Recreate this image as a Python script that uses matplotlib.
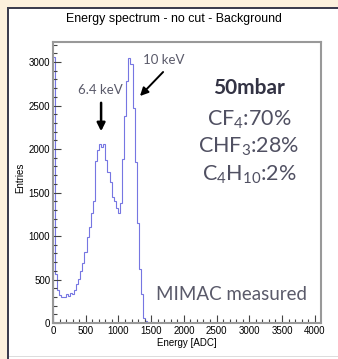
import numpy as np
import matplotlib
matplotlib.use('Agg')
import matplotlib.pyplot as plt
from matplotlib.patches import Rectangle

plt.rcParams['mathtext.fontset'] = 'custom'
plt.rcParams['mathtext.rm'] = 'Lato'
plt.rcParams['mathtext.it'] = 'Lato:italic'

# histogram, 32 ADC per bin, 0..4096
entries = [3060, 560, 380, 320, 300, 295, 330, 310, 340, 330,
           380, 450, 510, 600, 690, 820, 990, 1100, 1260, 1400,
           1860, 1990, 2060, 2020, 2060, 1870, 1730, 1620, 1450, 1400,
           1320, 1270, 1380, 1880, 2380, 2780, 3050, 2980, 2470, 1850,
           1150, 620, 330, 60, 25, 15, 10, 6, 5, 4,
           4, 3, 3, 3, 2, 3, 2, 2, 2, 2,
           2, 1, 2, 1, 1, 2, 1, 1, 1, 1,
           1, 1, 1, 0, 1, 1, 0, 1, 0, 1,
           0, 1, 0, 0, 1, 0, 0, 1, 0, 0,
           1, 0, 0, 0, 1, 0, 0, 0, 0, 1,
           0, 0, 0, 0, 0, 1, 0, 0, 0, 0,
           0, 0, 1, 0, 0, 0, 0, 0, 0, 0,
           0, 0, 0, 0, 0, 0, 0, 0]
bin_width = 32
xticks = [0, 500, 1000, 1500, 2000, 2500, 3000, 3500, 4000]
yticks = [0, 500, 1000, 1500, 2000, 2500, 3000]
gas_lines = [r'CF$_4$:70%', r'CHF$_3$:28%', r'C$_4$H$_{10}$:2%']

W, H = 338, 359
fig = plt.figure(figsize=(W / 100, H / 100), dpi=100)
fig.patch.set_facecolor('#fcf0dd')

# slide frame
fig.patches.append(Rectangle((9 / W, 0), 1, (H - 9) / H, transform=fig.transFigure,
                             facecolor='white', edgecolor='none', zorder=-3))
fig.patches.append(Rectangle((7 / W, 0), 2 / W, (H - 7) / H, transform=fig.transFigure,
                             facecolor='#3c3c4e', edgecolor='none', zorder=-2))
fig.patches.append(Rectangle((7 / W, (H - 9) / H), 1, 2 / H, transform=fig.transFigure,
                             facecolor='#3c3c4e', edgecolor='none', zorder=-2))
fig.patches.append(Rectangle((9 / W, 2 / H), 1, 1 / H, transform=fig.transFigure,
                             facecolor='#dddddd', edgecolor='none', zorder=-2))

ax = fig.add_axes([53 / W, (H - 323) / H, 268 / W, 281 / H])
ax.set_zorder(2)
ax.set_facecolor('white')
edges = np.arange(len(entries) + 1) * bin_width
ax.stairs(entries, edges, color='#7676e2', linewidth=0.8)
ax.set_xlim(0, 4096)
ax.set_ylim(0, 3230)

ax.set_xticks(xticks)
ax.set_yticks(yticks)
ax.set_xticks(np.arange(0, 4097, 100), minor=True)
ax.set_yticks(np.arange(0, 3201, 100), minor=True)
ax.tick_params(which='both', direction='in', colors='#444444', labelcolor='black',
               labelsize=7, labelfontfamily='Liberation Sans', width=0.8)
ax.tick_params(which='major', length=6, pad=2)
ax.tick_params(which='minor', length=3)
for s in ax.spines.values():
    s.set_color('#999999')
    s.set_linewidth(1.5)

fig.text(174 / W, 1 - 19 / H, 'Energy spectrum - no cut - Background',
         ha='center', va='center', fontsize=8.9, family='Liberation Sans')
fig.text(20 / W, 1 - 178 / H, 'Entries', rotation=90, ha='center', va='center',
         fontsize=7, family='Liberation Sans')
fig.text(187 / W, 1 - 343 / H, 'Energy [ADC]', ha='center', va='center',
         fontsize=7, family='Liberation Sans')

# peak labels
ax.annotate('', xy=(735, 2172), xytext=(735, 2563),
            arrowprops=dict(arrowstyle='-|>', color='black', lw=1.8, mutation_scale=12))
ax.text(719, 2678, '6.4 keV', ha='center', va='center', fontsize=9.5,
        family='Lato', color='#5a5a6a')
ax.annotate('', xy=(1300, 2586), xytext=(1712, 2908),
            arrowprops=dict(arrowstyle='-|>', color='black', lw=1.4, mutation_scale=12))
ax.text(1697, 3023, '10 keV', ha='center', va='center', fontsize=9.5,
        family='Lato', color='#5a5a6a')

fig.text(249 / W, 1 - 88 / H, '50mbar', ha='center', va='center', fontsize=15,
         family='Lato', fontweight='bold', color='#333344', zorder=3)
for label, ypx in zip(gas_lines, [120, 147, 175]):
    fig.text(249 / W, 1 - ypx / H, label, ha='center', va='center', fontsize=15.5,
             family='Lato', color='#505062', zorder=3)
fig.text(231 / W, 1 - 295 / H, 'MIMAC measured', ha='center', va='center',
         fontsize=13.5, family='Lato', color='#5a5a6a', zorder=3)

fig.savefig('out.png', dpi=100)
